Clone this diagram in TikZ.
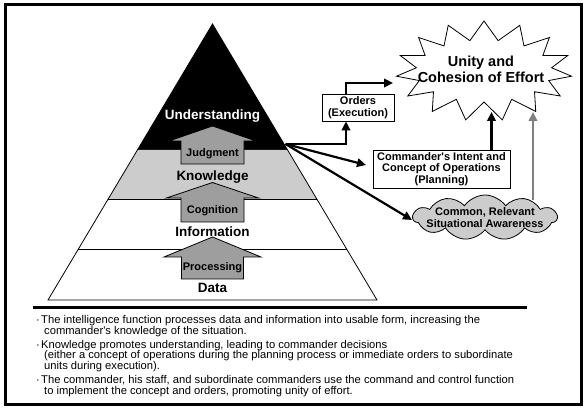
\documentclass[tikz,border=0pt]{standalone}
\usepackage{fontspec}
\setmainfont{Liberation Sans}
\usetikzlibrary{arrows.meta,shapes.symbols}
\begin{document}
\begin{tikzpicture}[x=1pt,y=-1pt,
  bigfont/.style={font=\fontsize{13.5}{16}\selectfont\bfseries},
  smallfont/.style={font=\fontsize{11}{11.5}\selectfont\bfseries},
  layerlabel/.style={bigfont,anchor=base,inner sep=0},
  arrowlabel/.style={smallfont,anchor=base,inner sep=0},
  uparrow/.style={draw=black,fill=black!38,line width=0.8},
  box/.style={draw=black,fill=white,line width=0.8,smallfont,align=center,inner sep=0},
  conn/.style={line width=2.2,-{Triangle[length=9,width=8.5]}},
  grayconn/.style={conn,draw=black!50,color=black!50},
  bodytext/.style={font=\fontsize{11.2}{12}\selectfont,anchor=base west,inner sep=0},
]
\useasboundingbox (0,0) rectangle (586,411);
% outer frame
\draw[line width=3] (5,5) rectangle (581,404);

% pyramid layers
\coordinate (apex) at (212.5,24);
\coordinate (bl) at (48,300);
\coordinate (br) at (377,300);
\fill[black] (apex) -- (287.6,150) -- (137.4,150) -- cycle;
\fill[black!20] (137.4,150) -- (287.6,150) -- (316.8,199) -- (108.2,199) -- cycle;
\draw[line width=0.8] (apex) -- (bl) -- (br) -- cycle;
\draw[line width=0.8] (108.2,199) -- (316.8,199);
\draw[line width=0.8] (78.4,249) -- (346.6,249);

% up arrows
\draw[uparrow] (212.5,126) -- (256,141) -- (244,141) -- (244,164) -- (181,164) -- (181,141) -- (169,141) -- cycle;
\draw[uparrow] (212.5,182.5) -- (258.5,198) -- (244,198) -- (244,222) -- (181,222) -- (181,198) -- (166.5,198) -- cycle;
\draw[uparrow] (212.5,237) -- (261,257) -- (243.5,257) -- (243.5,279) -- (181.5,279) -- (181.5,257) -- (164,257) -- cycle;

% labels
\node[layerlabel,text=white] (understanding) at (212.5,120) {Understanding};
\node[layerlabel] (knowledge) at (212.5,180.5) {Knowledge};
\node[layerlabel] (information) at (212.5,237) {Information};
\node[layerlabel] (data) at (212.5,292.5) {Data};
\node[arrowlabel] (judgment) at (212.5,156.7) {Judgment};
\node[arrowlabel] (cognition) at (212.5,214) {Cognition};
\node[arrowlabel] (processing) at (212.5,271) {Processing};

% star
\draw[line width=0.8,fill=white] ({484+88*cos(270)},{71+50*sin(270)})
  \foreach \k in {0,...,14} {
    -- ({484+68*cos(282+24*\k)},{71+31*sin(282+24*\k)})
    -- ({484+88*cos(294+24*\k)},{71+50*sin(294+24*\k)})
  } -- cycle;
\node[font=\fontsize{14.5}{16.5}\selectfont\bfseries,align=center,inner sep=0] (unity) at (481,69.5) {Unity and\\Cohesion of Effort};

% boxes
\node[box,minimum width=72,minimum height=27] (orders) at (358,107.5) {Orders\\(Execution)};
\node[box,minimum width=137,minimum height=38] (intent) at (441.5,169) {Commander\textquotesingle s Intent and\\Concept of Operations\\(Planning)};
\node[cloud,draw=black,fill=black!20,line width=0.8,cloud puffs=11,cloud puff arc=110,cloud ignores aspect,minimum width=144,minimum height=45,inner sep=0,
  label={[smallfont,align=center]center:Common, Relevant\\Situational Awareness}] (cloud) at (485,217.5) {};

% connectors
\coordinate (j) at (285.5,144);
\coordinate (starleft) at (393,83);
\coordinate (starbottom) at (491.5,112);
\coordinate (starright) at (533,112);
\coordinate (cloudtop) at (533,200);
\coordinate (intentin) at (366,165);
\coordinate (cloudin) at (412,220);
\draw[conn] (j) -| (orders.south -| 346,0);
\draw[conn] (orders.north -| 346,0) |- (starleft);
\draw[conn] (j) -- (intentin);
\draw[conn] (j) -- (cloudin);
\draw[conn] (intent.north -| starbottom) -- (starbottom);
\draw[grayconn] (cloudtop) -- (starright);

% separator
\draw[line width=3.5] (33,307.5) -- (527,307.5);

% bullet text
\node[bodytext] (b1a) at (36,323.5) {\makebox[5pt][l]{·}The intelligence function processes data and information into usable form, increasing the};
\node[bodytext] (b1b) at (44,335) {commander\textquotesingle s knowledge of the situation.};
\node[bodytext] (b2a) at (36,348.5) {\makebox[5pt][l]{·}Knowledge promotes understanding, leading to commander decisions};
\node[bodytext] (b2b) at (44,359) {(either a concept of operations during the planning process or immediate orders to subordinate};
\node[bodytext] (b2c) at (44,370) {units during execution).};
\node[bodytext] (b3a) at (36,383.5) {\makebox[5pt][l]{·}The commander, his staff, and subordinate commanders use the command and control function};
\node[bodytext] (b3b) at (44,394) {to implement the concept and orders, promoting unity of effort.};
\end{tikzpicture}
\end{document}
